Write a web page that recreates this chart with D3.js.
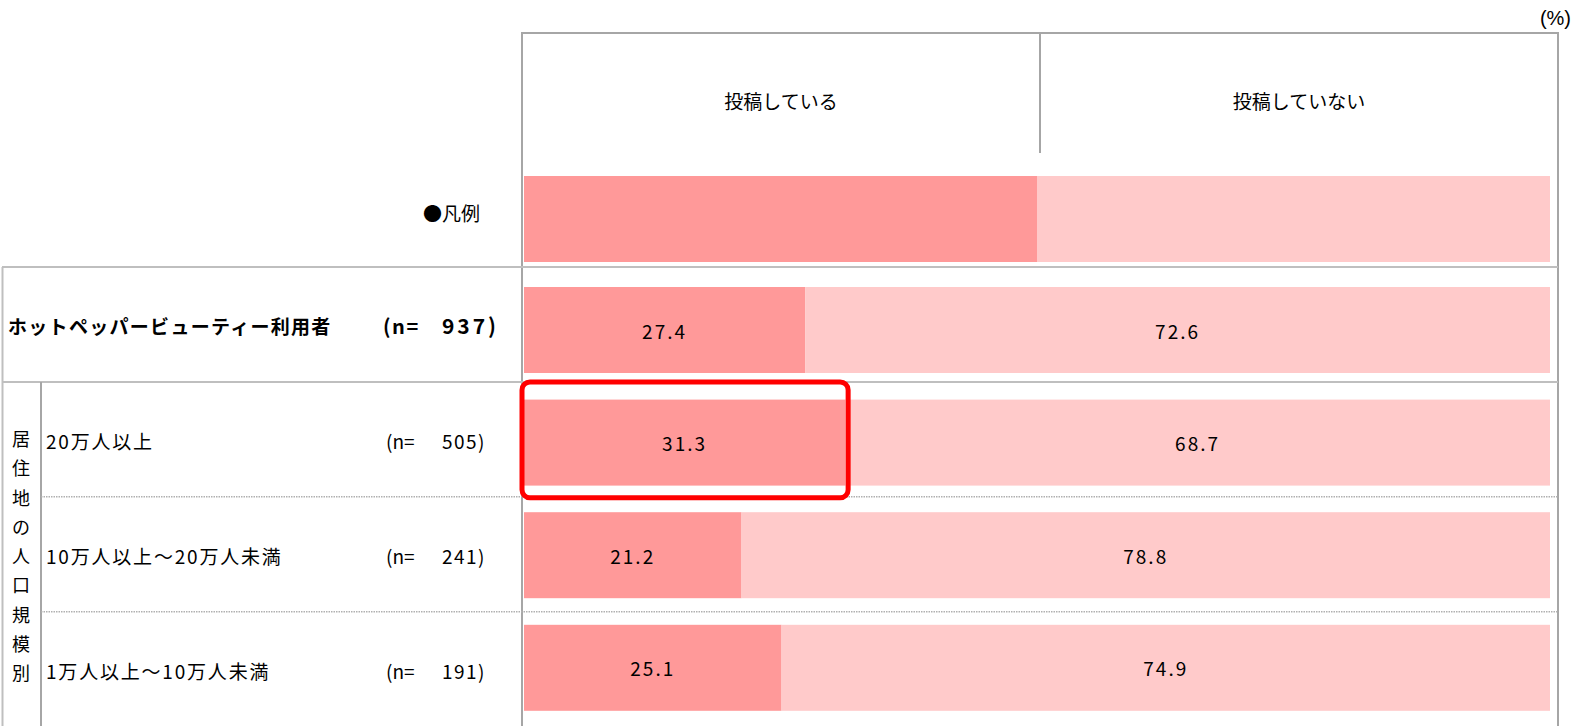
<!DOCTYPE html>
<html>
<head>
<meta charset="utf-8">
<script src="https://cdn.jsdelivr.net/npm/d3@7/dist/d3.min.js"></script>
<style>
  html, body { margin: 0; padding: 0; background: #fff; }
  svg { display: block; }
  text { font-family: "Noto Sans CJK JP", "Noto Sans", sans-serif; fill: #000; }
</style>
</head>
<body>
<svg id="chart" width="1582" height="726"></svg>
<script>
// ---- data ----
const seriesNames = ["投稿している", "投稿していない"];
const legendValues = [50, 50];
const categories = ["ホットペッパービューティー利用者", "20万人以上", "10万人以上～20万人未満", "1万人以上～10万人未満"];
const nValues = [937, 505, 241, 191];
const posted = [27.4, 31.3, 21.2, 25.1];
const notPosted = [72.6, 68.7, 78.8, 74.9];
const groupLabel = "居住地の人口規模別";
const legendLabel = "●凡例";
const unitLabel = "(%)";
const highlightIndex = 1;

// ---- layout ----
const svg = d3.select("#chart");
const W = 1582, H = 726;
const frameL = 522, frameR = 1558, frameT = 33;
const colors = ["#ff9999", "#ffcaca"];
const lineDark = "#a6a6a6", lineLight = "#bfbfbf";

const x = d3.scaleLinear().domain([0, 100]).range([524, 1550]);
const rowIdx = d3.range(categories.length);
const barStep = 112.6, barH = 86, barTop = 287;
const yBar = d3.scaleBand().domain(rowIdx)
  .range([barTop, barTop + barStep * 3 + barH])
  .paddingInner(1 - barH / barStep).paddingOuter(0);
const yRow = d3.scaleLinear().domain([0, 4]).range([267, 267 + 114.9 * 4]);

// header
svg.append("text").attr("x", 1571).attr("y", 25).attr("text-anchor", "end")
  .style("font-family", "'Liberation Sans', sans-serif").style("font-size", "20px").text(unitLabel);

const headerCenters = [(frameL + 1040) / 2, (1040 + frameR) / 2];
svg.selectAll("text.hdr").data(seriesNames).join("text").attr("class", "hdr")
  .attr("x", (d, i) => headerCenters[i]).attr("y", 100)
  .attr("text-anchor", "middle").attr("dominant-baseline", "central")
  .style("font-size", "19px").text(d => d);

// legend bar
const legendStack = d3.cumsum(legendValues);
svg.selectAll("rect.leg").data(legendValues).join("rect").attr("class", "leg")
  .attr("x", (d, i) => x(legendStack[i] - d))
  .attr("width", (d, i) => x(legendStack[i]) - x(legendStack[i] - d))
  .attr("y", 176).attr("height", 86)
  .attr("fill", (d, i) => colors[i]);
svg.append("text").attr("x", 480).attr("y", 212).attr("text-anchor", "end")
  .attr("dominant-baseline", "central").style("font-size", "19px").text(legendLabel);

// data bars
const rows = rowIdx.map(i => ({ i, segs: [posted[i], notPosted[i]] }));
const g = svg.selectAll("g.row").data(rows).join("g").attr("class", "row");
g.each(function (r) {
  const gg = d3.select(this);
  let acc = 0;
  r.segs.forEach((v, k) => {
    const x0 = x(acc), x1 = x(acc + v);
    gg.append("rect").attr("x", x0).attr("width", x1 - x0)
      .attr("y", yBar(r.i)).attr("height", yBar.bandwidth()).attr("fill", colors[k]);
    gg.append("text").attr("x", (x0 + x1) / 2).attr("y", yBar(r.i) + yBar.bandwidth() / 2)
      .attr("text-anchor", "middle").attr("dominant-baseline", "central")
      .style("font-size", "19px").style("letter-spacing", "2px").text(v.toFixed(1));
    acc += v;
  });
});

// left labels
rowIdx.forEach(i => {
  const cy = (yRow(i) + yRow(i + 1)) / 2 + 1;
  const bold = i === 0;
  svg.append("text").attr("x", bold ? 8 : 46).attr("y", cy).attr("dominant-baseline", "central")
    .style("font-size", "19px").style("font-weight", bold ? "bold" : "normal")
    .style("letter-spacing", bold ? "1.3px" : "1.8px")
    .text(categories[i]);
  svg.append("text").attr("x", bold ? 383 : 386).attr("y", cy).attr("dominant-baseline", "central")
    .style("font-size", bold ? "20px" : "19px").style("font-weight", bold ? "bold" : "normal")
    .style("letter-spacing", bold ? "1.5px" : "0px").text("(n=");
  svg.append("text").attr("x", bold ? 499 : 486).attr("y", cy).attr("text-anchor", "end").attr("dominant-baseline", "central")
    .style("font-size", bold ? "21px" : "19px").style("font-weight", bold ? "bold" : "normal")
    .style("letter-spacing", bold ? "3px" : "1.5px")
    .text(nValues[i] + ")");
});

// group label (vertical)
const gchars = Array.from(groupLabel);
svg.selectAll("text.grp").data(gchars).join("text").attr("class", "grp")
  .attr("x", 21).attr("y", (d, i) => 438 + i * 29.25)
  .attr("text-anchor", "middle").attr("dominant-baseline", "central")
  .style("font-size", "18px").text(d => d);

// grid lines
const ln = (x1, y1, x2, y2, c, w, dash) => svg.append("line")
  .attr("x1", x1).attr("y1", y1).attr("x2", x2).attr("y2", y2)
  .attr("stroke", c).attr("stroke-width", w).attr("stroke-dasharray", dash || null);
ln(frameL - 1, frameT, frameR + 1, frameT, lineDark, 2);
ln(frameL, frameT, frameL, H, lineDark, 2);
ln(frameR, frameT, frameR, H, lineDark, 2);
ln(1040, frameT, 1040, 153, lineDark, 2);
ln(2, yRow(0), frameR, yRow(0), lineLight, 2);
ln(2, yRow(1), frameR, yRow(1), lineLight, 2);
ln(2.5, yRow(0), 2.5, H, lineLight, 2);
ln(41, yRow(1), 41, H, lineDark, 2);
ln(41, yRow(2), frameR, yRow(2), "#b0b0b0", 1.5, "1.5,1");
ln(41, yRow(3), frameR, yRow(3), "#b0b0b0", 1.5, "1.5,1");

// highlight
const hx0 = x(0) - 2, hx1 = x(posted[highlightIndex]) + 3;
svg.append("rect").attr("x", hx0).attr("y", yRow(highlightIndex))
  .attr("width", hx1 - hx0).attr("height", yRow(highlightIndex + 1) + 1 - yRow(highlightIndex))
  .attr("rx", 8).attr("fill", "none").attr("stroke", "#ff0000").attr("stroke-width", 5);
</script>
</body>
</html>
